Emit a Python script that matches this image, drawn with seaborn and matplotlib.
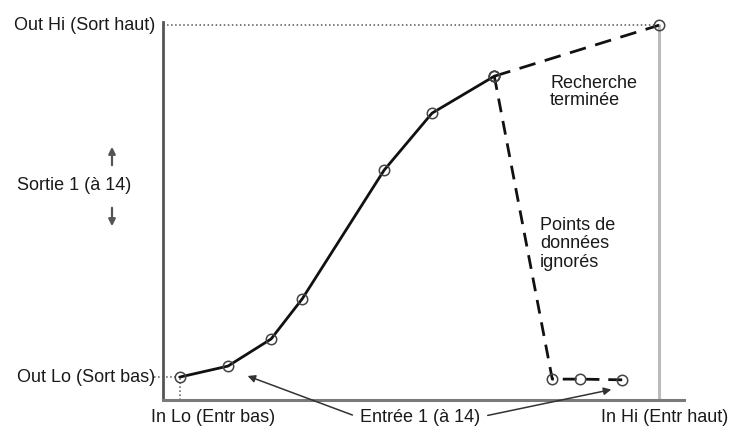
import matplotlib
import matplotlib.pyplot as plt
import pandas as pd
import seaborn as sns

matplotlib.use("Agg")

# input / output on a 0-100 scale (In Lo..In Hi, Out Lo..Out Hi)
in_main = [0, 10.0, 19.0, 25.5, 42.6, 52.6, 65.6]
out_main = [0, 3.1, 10.8, 22.2, 58.8, 75.0, 85.5]
in_end = [65.6, 100]
out_end = [85.5, 100]
in_ignored = [65.6, 77.7, 83.5, 92.3]
out_ignored = [85.5, -0.6, -0.6, -0.8]

sns.set_theme(style="white")
plt.rcParams["font.family"] = ["Liberation Sans", "DejaVu Sans"]

fig = plt.figure(figsize=(7.34, 4.32), dpi=100)
ax = fig.add_axes([0.2221, 0.0741, 0.7098, 0.8749])
ax.set_xlim(-3.55, 105.2)
ax.set_ylim(-6.53, 100.9)

# guides
ax.plot([-3.55, 100], [100, 100], ls=":", color="#555555", lw=1.1)
ax.plot([-5.5, 0], [0, 0], ls=":", color="#555555", lw=1.1, clip_on=False)
ax.plot([0, 0], [-6.53, 0], ls=":", color="#555555", lw=1.1)
ax.plot([100, 100], [-6.53, 100], color="#bbbbbb", lw=2.2)

mk = dict(marker="o", markersize=7.5, markerfacecolor="none",
          markeredgecolor="#444444", markeredgewidth=1.1, clip_on=False)

df_main = pd.DataFrame({"x": in_main, "y": out_main})
df_end = pd.DataFrame({"x": in_end, "y": out_end})
df_ign = pd.DataFrame({"x": in_ignored, "y": out_ignored})

sns.lineplot(data=df_ign, x="x", y="y", ax=ax, color="#111111", lw=2,
             linestyle=(0, (5, 3.2)), sort=False, **mk)
sns.lineplot(data=df_end, x="x", y="y", ax=ax, color="#111111", lw=2,
             linestyle=(0, (6, 3.5)), sort=False, **mk)
sns.lineplot(data=df_main, x="x", y="y", ax=ax, color="#111111", lw=2,
             sort=False, **mk)

for side in ["top", "right"]:
    ax.spines[side].set_visible(False)
ax.spines["left"].set_color("#555555")
ax.spines["left"].set_linewidth(2)
ax.spines["bottom"].set_color("#7a7a7a")
ax.spines["bottom"].set_linewidth(2.2)
ax.set_xticks([])
ax.set_yticks([])
ax.set_xlabel("")
ax.set_ylabel("")

fs = 13
tc = "#1a1a1a"
W, H = 734, 432


def px(x, y):
    return x / W, 1 - y / H


fig.text(*px(155, 25), "Out Hi (Sort haut)", ha="right", va="center", fontsize=fs, color=tc)
fig.text(*px(155, 377), "Out Lo (Sort bas)", ha="right", va="center", fontsize=fs, color=tc)
fig.text(*px(74, 186), "Sortie 1 (à 14)", ha="center", va="center", fontsize=fs, color=tc)
fig.text(*px(213, 418), "In Lo (Entr bas)", ha="center", va="center", fontsize=fs, color=tc)
fig.text(*px(420, 418), "Entrée 1 (à 14)", ha="center", va="center", fontsize=fs, color=tc)
fig.text(*px(665, 418), "In Hi (Entr haut)", ha="center", va="center", fontsize=fs, color=tc)
fig.text(*px(550, 92), "Recherche\nterminée", ha="left", va="center",
         fontsize=fs, color=tc, linespacing=1.05)
fig.text(*px(540, 244), "Points de\ndonnées\nignorés", ha="left", va="center",
         fontsize=fs, color=tc, linespacing=1.1)

arr = dict(arrowstyle="-|>", color="#333333", lw=1.1, mutation_scale=11)
fig.add_artist(matplotlib.patches.FancyArrowPatch(
    px(355, 416), px(245, 375), transform=fig.transFigure, **arr))
fig.add_artist(matplotlib.patches.FancyArrowPatch(
    px(485, 416), px(614, 389), transform=fig.transFigure, **arr))

varr = dict(arrowstyle="-|>", color="#555555", lw=1.6, mutation_scale=10)
fig.add_artist(matplotlib.patches.FancyArrowPatch(
    px(112, 168), px(112, 144), transform=fig.transFigure, **varr))
fig.add_artist(matplotlib.patches.FancyArrowPatch(
    px(112, 205), px(112, 229), transform=fig.transFigure, **varr))

fig.savefig("out.png", dpi=100)
